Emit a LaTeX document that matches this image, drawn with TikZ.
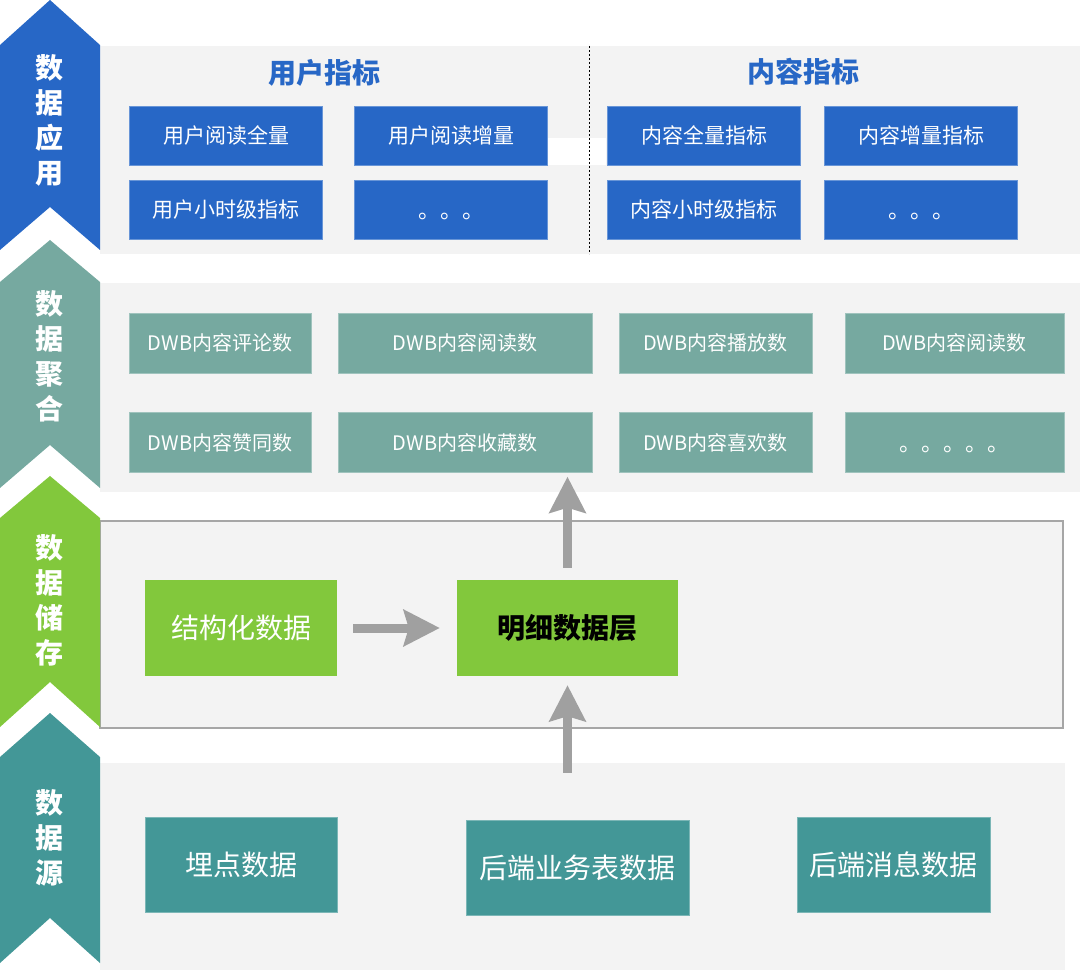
\documentclass[tikz,border=0pt]{standalone}
\usepackage{fontspec}
\setmainfont{Noto Sans CJK SC}
\usepackage{tikz}
\usetikzlibrary{positioning,arrows.meta}

\definecolor{appblue}{HTML}{2767C6}
\definecolor{aggteal}{HTML}{76A9A0}
\definecolor{storegreen}{HTML}{82C83C}
\definecolor{srcteal}{HTML}{439797}
\definecolor{bandgray}{HTML}{F3F3F3}
\definecolor{arrowgray}{HTML}{A0A0A0}

\begin{document}
\begin{tikzpicture}
[x=1pt,y=-1pt,
 band/.style={fill=bandgray},
 layer/.style={text=white,font=\bfseries\fontsize{28}{35}\selectfont,align=center},
 title/.style={text=appblue,font=\bfseries\fontsize{28}{32}\selectfont},
 metric/.style={shape=rectangle,fill=appblue,draw=appblue!70!white,text=white,minimum width=193pt,minimum height=59pt,inner sep=0pt,font=\fontsize{21}{25}\selectfont},
 agg/.style={shape=rectangle,fill=aggteal,draw=aggteal!70!white,text=white,minimum height=60pt,inner sep=0pt,font=\fontsize{20}{24}\selectfont},
 store/.style={shape=rectangle,fill=storegreen,minimum width=192pt,minimum height=96pt,inner sep=0pt,font=\fontsize{28}{32}\selectfont},
 source/.style={shape=rectangle,fill=srcteal,draw=srcteal!70!white,text=white,minimum height=95pt,inner sep=0pt,font=\fontsize{28}{32}\selectfont},
 flow/.style={draw=arrowgray,line width=9pt,-{Stealth[length=36pt,width=36pt,inset=5pt]}}]

\useasboundingbox (0,0) rectangle (1080,973);

% bands
\fill[band] (100,46) rectangle (1080,254);
\fill[white] (548,138) rectangle (606,165);
\fill[band] (100,283) rectangle (1080,492);
\draw[band,draw=black!35,line width=1.2pt] (100,521) rectangle (1063,728);
\fill[band] (100,763) rectangle (1065,970);
\draw[dash pattern=on 2pt off 2pt,line width=1pt] (589,46) -- (589,254);

% layer arrows
\fill[appblue] (0,45) -- (50,0) -- (100,45) -- (100,250) -- (50,207) -- (0,250) -- cycle;
\fill[aggteal] (0,282) -- (50,240) -- (100,282) -- (100,488) -- (50,445) -- (0,488) -- cycle;
\fill[storegreen] (0,518) -- (50,476) -- (100,518) -- (100,727) -- (50,682) -- (0,727) -- cycle;
\fill[srcteal] (0,757) -- (50,713) -- (100,757) -- (100,963) -- (50,918) -- (0,963) -- cycle;
\node[layer] (app) at (49,120) {数\\据\\应\\用};
\node[layer] (agg) at (49,356) {数\\据\\聚\\合};
\node[layer] (store) at (49,600) {数\\据\\储\\存};
\node[layer] (src) at (49,838) {数\\据\\源};

% data application
\node[title] (utitle) at (324,73) {用户指标};
\node[title] (ctitle) at (803,72) {内容指标};
\node[metric] (uall) at (226,135.5) {用户阅读全量};
\node[metric] (uinc) at (451,135.5) {用户阅读增量};
\node[metric] (uhour) at (226,209.5) {用户小时级指标};
\node[metric,font=\fontsize{22}{25}\selectfont] (umore) at (451,209.5) {\smash{\raisebox{-9pt}{。。。}}};
\node[metric] (call) at (704,135.5) {内容全量指标};
\node[metric] (cinc) at (921,135.5) {内容增量指标};
\node[metric] (chour) at (704,209.5) {内容小时级指标};
\node[metric,font=\fontsize{22}{25}\selectfont] (cmore) at (921,209.5) {\smash{\raisebox{-9pt}{。。。}}};

% data aggregation
\node[agg,minimum width=182pt] (comment) at (220,343) {DWB内容评论数};
\node[agg,minimum width=254pt] (read) at (465,343) {DWB内容阅读数};
\node[agg,minimum width=193pt] (play) at (715.5,343) {DWB内容播放数};
\node[agg,minimum width=219pt] (read2) at (954.5,343) {DWB内容阅读数};
\node[agg,minimum width=182pt] (like) at (220,442.5) {DWB内容赞同数};
\node[agg,minimum width=254pt] (fav) at (465,442.5) {DWB内容收藏数};
\node[agg,minimum width=193pt] (love) at (715.5,442.5) {DWB内容喜欢数};
\node[agg,minimum width=219pt,font=\fontsize{22}{24}\selectfont] (aggmore) at (954.5,442.5) {\smash{\raisebox{-9pt}{。。。。。}}};

% data storage
\node[store,text=white] (struct) at (241,628) {结构化数据};
\node[store,minimum width=221pt,font=\bfseries\fontsize{28}{32}\selectfont] (detail) at (567.5,628) {明细数据层};

% data source
\node[source,minimum width=192pt] (track) at (241,864.5) {埋点数据};
\node[source,minimum width=223pt] (backend) at (577.5,867.5) {后端业务表数据};
\node[source,minimum width=193pt] (message) at (893.5,864.5) {后端消息数据};

\draw[flow,shorten <=16pt,shorten >=17pt] (struct) -- (detail);
\draw[flow,shorten <=12pt,shorten >=4pt] (detail.north) -- (detail.north |- fav.south);
\draw[flow,shorten <=47pt,shorten >=9pt] (detail.south |- backend.north) -- (detail.south);
\end{tikzpicture}
\end{document}
